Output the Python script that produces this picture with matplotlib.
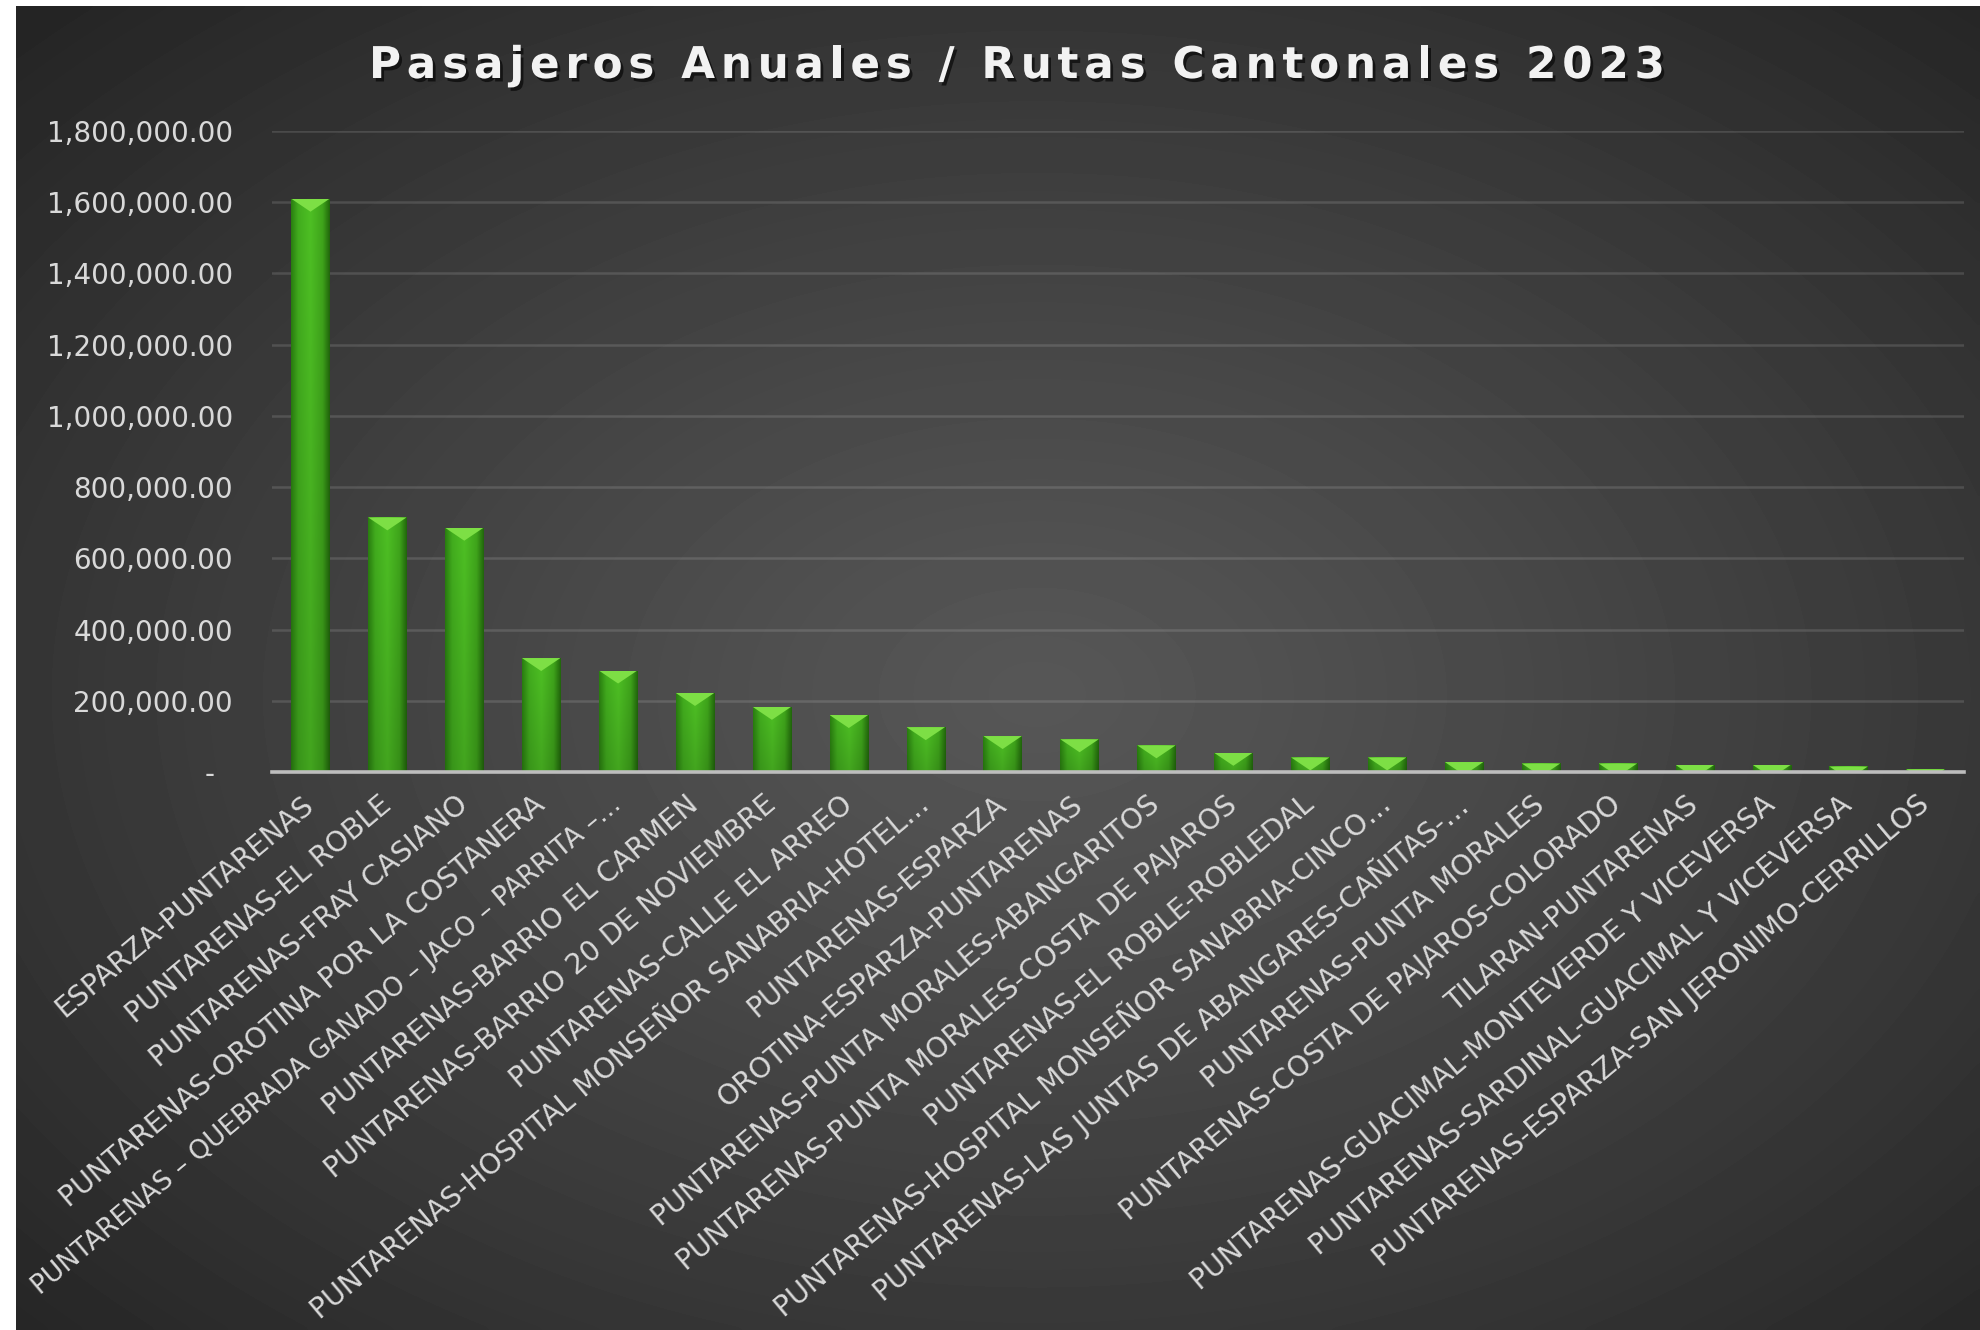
import numpy as np
import matplotlib.pyplot as plt
from matplotlib import patheffects as pe
from matplotlib.colors import LinearSegmentedColormap
from matplotlib.patches import Polygon
from matplotlib.ticker import FixedLocator, FuncFormatter

# datos
rutas = [
    'ESPARZA-PUNTARENAS',
    'PUNTARENAS-EL ROBLE',
    'PUNTARENAS-FRAY CASIANO',
    'PUNTARENAS-OROTINA POR LA COSTANERA',
    'PUNTARENAS – QUEBRADA GANADO – JACO – PARRITA –…',
    'PUNTARENAS-BARRIO EL CARMEN',
    'PUNTARENAS-BARRIO 20 DE NOVIEMBRE',
    'PUNTARENAS-CALLE EL ARREO',
    'PUNTARENAS-HOSPITAL MONSEÑOR SANABRIA-HOTEL…',
    'PUNTARENAS-ESPARZA',
    'OROTINA-ESPARZA-PUNTARENAS',
    'PUNTARENAS-PUNTA MORALES-ABANGARITOS',
    'PUNTARENAS-PUNTA MORALES-COSTA DE PAJAROS',
    'PUNTARENAS-EL ROBLE-ROBLEDAL',
    'PUNTARENAS-HOSPITAL MONSEÑOR SANABRIA-CINCO…',
    'PUNTARENAS-LAS JUNTAS DE ABANGARES-CAÑITAS-…',
    'PUNTARENAS-PUNTA MORALES',
    'PUNTARENAS-COSTA DE PAJAROS-COLORADO',
    'TILARAN-PUNTARENAS',
    'PUNTARENAS-GUACIMAL-MONTEVERDE Y VICEVERSA',
    'PUNTARENAS-SARDINAL-GUACIMAL Y VICEVERSA',
    'PUNTARENAS-ESPARZA-SAN JERONIMO-CERRILLOS',
]
pasajeros = [1610000, 715000, 686000, 320000, 285000, 222000, 183000, 160000,
             126000, 101000, 92000, 75000, 54000, 41000, 41000, 28000, 24000,
             24000, 20000, 20500, 15500, 8000]
marcas_y = [0, 200000, 400000, 600000, 800000, 1000000, 1200000, 1400000,
            1600000, 1800000]
titulo = 'Pasajeros Anuales / Rutas Cantonales 2023'

W, H = 1980, 1330
fig = plt.figure(figsize=(W / 100, H / 100), dpi=100, facecolor='white')

# fondo oscuro con degradado radial
bg = fig.add_axes([16 / W, 0, 1 - 16 / W, 1 - 6 / H])
bg.set_axis_off()
yy, xx = np.mgrid[0:1:300j, 0:1:450j]
r = np.sqrt(((xx - 0.52) / 0.72) ** 2 + ((yy - 0.52) / 0.72) ** 2)
gris = 0.34 - 0.195 * np.clip(r, 0, 1) ** 1.15
bg.imshow(gris, cmap='gray', vmin=0, vmax=1, extent=[0, 1, 0, 1],
          aspect='auto', interpolation='bicubic')
bg.set_xlim(0, 1)
bg.set_ylim(0, 1)

# grafico de barras
ax = fig.add_axes([272 / W, 1 - 772 / H, (1964 - 272) / W, (772 - 131) / H])
ax.patch.set_alpha(0)
x = np.arange(len(rutas))
barras = ax.bar(x, pasajeros, width=0.5, color='#3fa91d', zorder=3)

# degradado verde dentro de cada barra
verde = LinearSegmentedColormap.from_list(
    'verde', [(0, '#2a7f10'), (0.18, '#42ad1e'), (0.5, '#4ec024'),
              (0.82, '#3fa51b'), (1, '#22680c')])
u = np.linspace(0, 1, 64)
base = verde(u)[:, :3]
fila = np.linspace(1.0, 0.86, 64)[:, None, None]
grad = np.clip(base[None, :, :] * fila, 0, 1)
px = 1800000 / 641  # valor por pixel
for b in barras:
    x0, w, h = b.get_x(), b.get_width(), b.get_height()
    im = ax.imshow(grad, extent=[x0, x0 + w, 0, h], aspect='auto', zorder=4,
                   interpolation='bilinear')
    im.set_clip_path(b)
    tri = Polygon([[x0, h], [x0 + w, h], [x0 + w / 2, h - 13 * px]],
                  closed=True, facecolor='#7ddf45', edgecolor='none', zorder=5)
    ax.add_patch(tri)
    tri.set_clip_path(b)
ax.set_xlim(-0.5, len(rutas) - 0.5)
ax.set_ylim(0, 1800000)

# ejes y cuadricula
for lado in ['top', 'right', 'left']:
    ax.spines[lado].set_visible(False)
ax.spines['bottom'].set_color('#bdbdbd')
ax.spines['bottom'].set_linewidth(2.6)
ax.spines['bottom'].set_zorder(6)
ax.yaxis.set_major_locator(FixedLocator(marcas_y))
ax.yaxis.set_major_formatter(FuncFormatter(
    lambda v, _: '-  ' if v == 0 else f'{v:,.2f}'))
ax.grid(axis='y', color='white', alpha=0.13, linewidth=1.8, zorder=1)
ax.set_axisbelow(True)
ax.tick_params(axis='y', length=0, pad=28, labelsize=20, labelcolor='#d9d9d9')
ax.tick_params(axis='x', length=0, pad=21, labelsize=20.3, labelcolor='#d9d9d9')
ax.set_xticks(x)
etiquetas = ax.set_xticklabels(rutas, rotation=40, ha='right', va='center',
                               rotation_mode='anchor')
# la etiqueta mas larga se achica un poco para que quepa como en el original
etiquetas[4].set_fontsize(19.0)

# titulo con espaciado entre letras
fig.canvas.draw()
rend = fig.canvas.get_renderer()
props = dict(fontsize=31.5, fontweight='bold', family='DejaVu Sans',
             color='#f2f2f2')


def ancho(s):
    t = fig.text(0, 0, s, **props)
    w = t.get_window_extent(rend).width
    t.remove()
    return w


ref = ancho('II')
anchos = [ancho('I' + c + 'I') - ref for c in titulo]
espacio = (1296 - sum(anchos)) / (len(titulo) - 1)
xi = 1017 - 1296 / 2
sombra = [pe.SimplePatchShadow(offset=(2, -2.5), shadow_rgbFace='black',
                               alpha=0.6), pe.Normal()]
for c, w in zip(titulo, anchos):
    if c != ' ':
        fig.text(xi / W, 1 - 61 / H, c, ha='left', va='center_baseline',
                 path_effects=sombra, **props)
    xi += w + espacio

fig.savefig('out.png', dpi=100, facecolor=fig.get_facecolor())
